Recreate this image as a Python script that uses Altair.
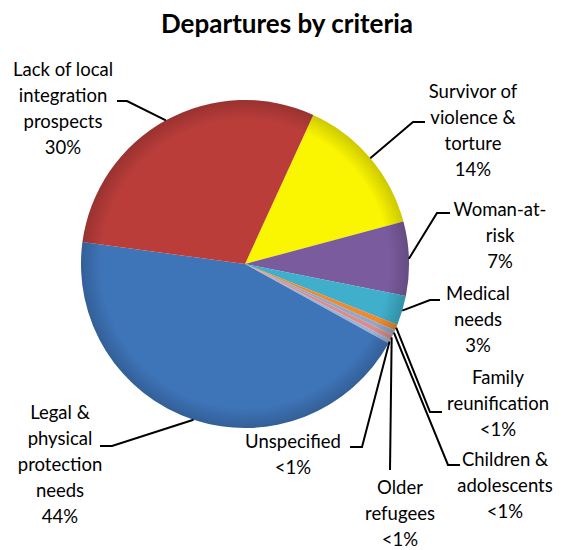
import math
import altair as alt
import pandas as pd
import numpy as np

# ---- data ----
categories = [
    "Survivor of violence & torture", "Woman-at-risk", "Medical needs",
    "Family reunification", "Children & adolescents", "Older refugees",
    "Unspecified", "Legal & physical protection needs",
    "Lack of local integration prospects",
]
values = [14.0, 7.3, 2.9, 0.6, 0.5, 0.5, 0.4, 44.1, 29.7]
pct_labels = ["14%", "7%", "3%", "<1%", "<1%", "<1%", "<1%", "44%", "30%"]
label_lines = [
    ["Survivor of", "violence &", "torture"],
    ["Woman-at-", "risk"],
    ["Medical", "needs"],
    ["Family", "reunification"],
    ["Children &", "adolescents"],
    ["Older", "refugees"],
    ["Unspecified"],
    ["Legal &", "physical", "protection", "needs"],
    ["Lack of local", "integration", "prospects"],
]

# ---- styles / layout ----
colors = ["#FAF500", "#7A5C9E", "#3FAFCB", "#EE8A30", "#8FA8CF",
          "#D98E8A", "#9DB2D6", "#3E74B8", "#BA3D3A"]
W, H = 546, 542
CX, CY, R = 237, 256, 164
START = math.radians(24.6)
FONT = "Lato"
FS = 18.5
LH = 26

label_x = [465, 492, 470, 490, 497, 392, 285, 52, 55]
label_y = [84, 202, 286, 370, 452, 480, 434, 405, 62]
elbow_x = [405, 429, 422, 422, 440, 382, 354, 104, 119]
elbow_y = [114, 205, 292, 404, 457, 462, 439, 438, 93]
end_x = [417, 442, 432, 434, 452, 382, 342, 92, 109]
end_y = [114, 205, 292, 404, 457, 462, 439, 438, 93]

df = pd.DataFrame({
    "category": categories,
    "value": values,
    "order": list(range(len(categories))),
})

pie = alt.Chart(df).mark_arc(outerRadius=R, stroke=None).encode(
    theta=alt.Theta("value:Q", stack=True,
                    scale=alt.Scale(range=[START, START + 2 * math.pi])),
    order=alt.Order("order:Q"),
    color=alt.Color("category:N",
                    scale=alt.Scale(domain=categories, range=colors),
                    legend=None),
    x=alt.value(CX),
    y=alt.value(CY),
)

shade = alt.Chart(pd.DataFrame({"a": [0]})).mark_arc(
    outerRadius=R, theta=0, theta2=2 * math.pi,
    color=alt.RadialGradient(
        gradient="radial", x1=0.5, y1=0.5, r1=0, x2=0.5, y2=0.5, r2=0.5,
        stops=[
            alt.GradientStop(offset=0, color="rgba(0,0,0,0)"),
            alt.GradientStop(offset=0.88, color="rgba(0,0,0,0)"),
            alt.GradientStop(offset=1, color="rgba(0,0,0,0.18)"),
        ],
    ),
).encode(x=alt.value(CX), y=alt.value(CY))

# leader lines: start at pie edge at each slice's mid-angle
total = sum(values)
cum = np.cumsum([0] + values[:-1])
rows = []
for i, c in enumerate(categories):
    mid = START + 2 * math.pi * (cum[i] + values[i] / 2) / total
    sx = CX + R * math.sin(mid)
    sy = CY - R * math.cos(mid)
    pts = [(sx, sy), (elbow_x[i], elbow_y[i]), (end_x[i], end_y[i])]
    for k, (px, py) in enumerate(pts):
        rows.append({"category": c, "k": k, "px": px, "py": py})
lines_df = pd.DataFrame(rows)

leaders = alt.Chart(lines_df).mark_line(color="black", strokeWidth=2).encode(
    x=alt.X("px:Q", scale=None),
    y=alt.Y("py:Q", scale=None),
    detail="category:N",
    order="k:Q",
)

lab_df = pd.DataFrame({
    "category": categories,
    "text": ["\n".join(l + [p]) for l, p in zip(label_lines, pct_labels)],
    "lx": label_x,
    "ly": label_y,
})
labels = alt.Chart(lab_df).mark_text(
    font=FONT, fontSize=FS, lineBreak="\n", lineHeight=LH,
    align="center", baseline="middle", color="black",
).encode(
    x=alt.X("lx:Q", scale=None),
    y=alt.Y("ly:Q", scale=None),
    text="text:N",
)

title = alt.Chart(pd.DataFrame({"t": ["Departures by criteria"]})).mark_text(
    font=FONT, fontSize=26, fontWeight="bold", align="center",
    baseline="middle", color="black",
).encode(x=alt.value(279), y=alt.value(17), text="t:N")

chart = alt.layer(pie, shade, leaders, labels, title).properties(
    width=W, height=H,
    autosize=alt.AutoSizeParams(type="none"),
    padding=0,
).configure_view(stroke=None)

chart.save("out.html", embed_options={"renderer": "svg", "actions": False})
